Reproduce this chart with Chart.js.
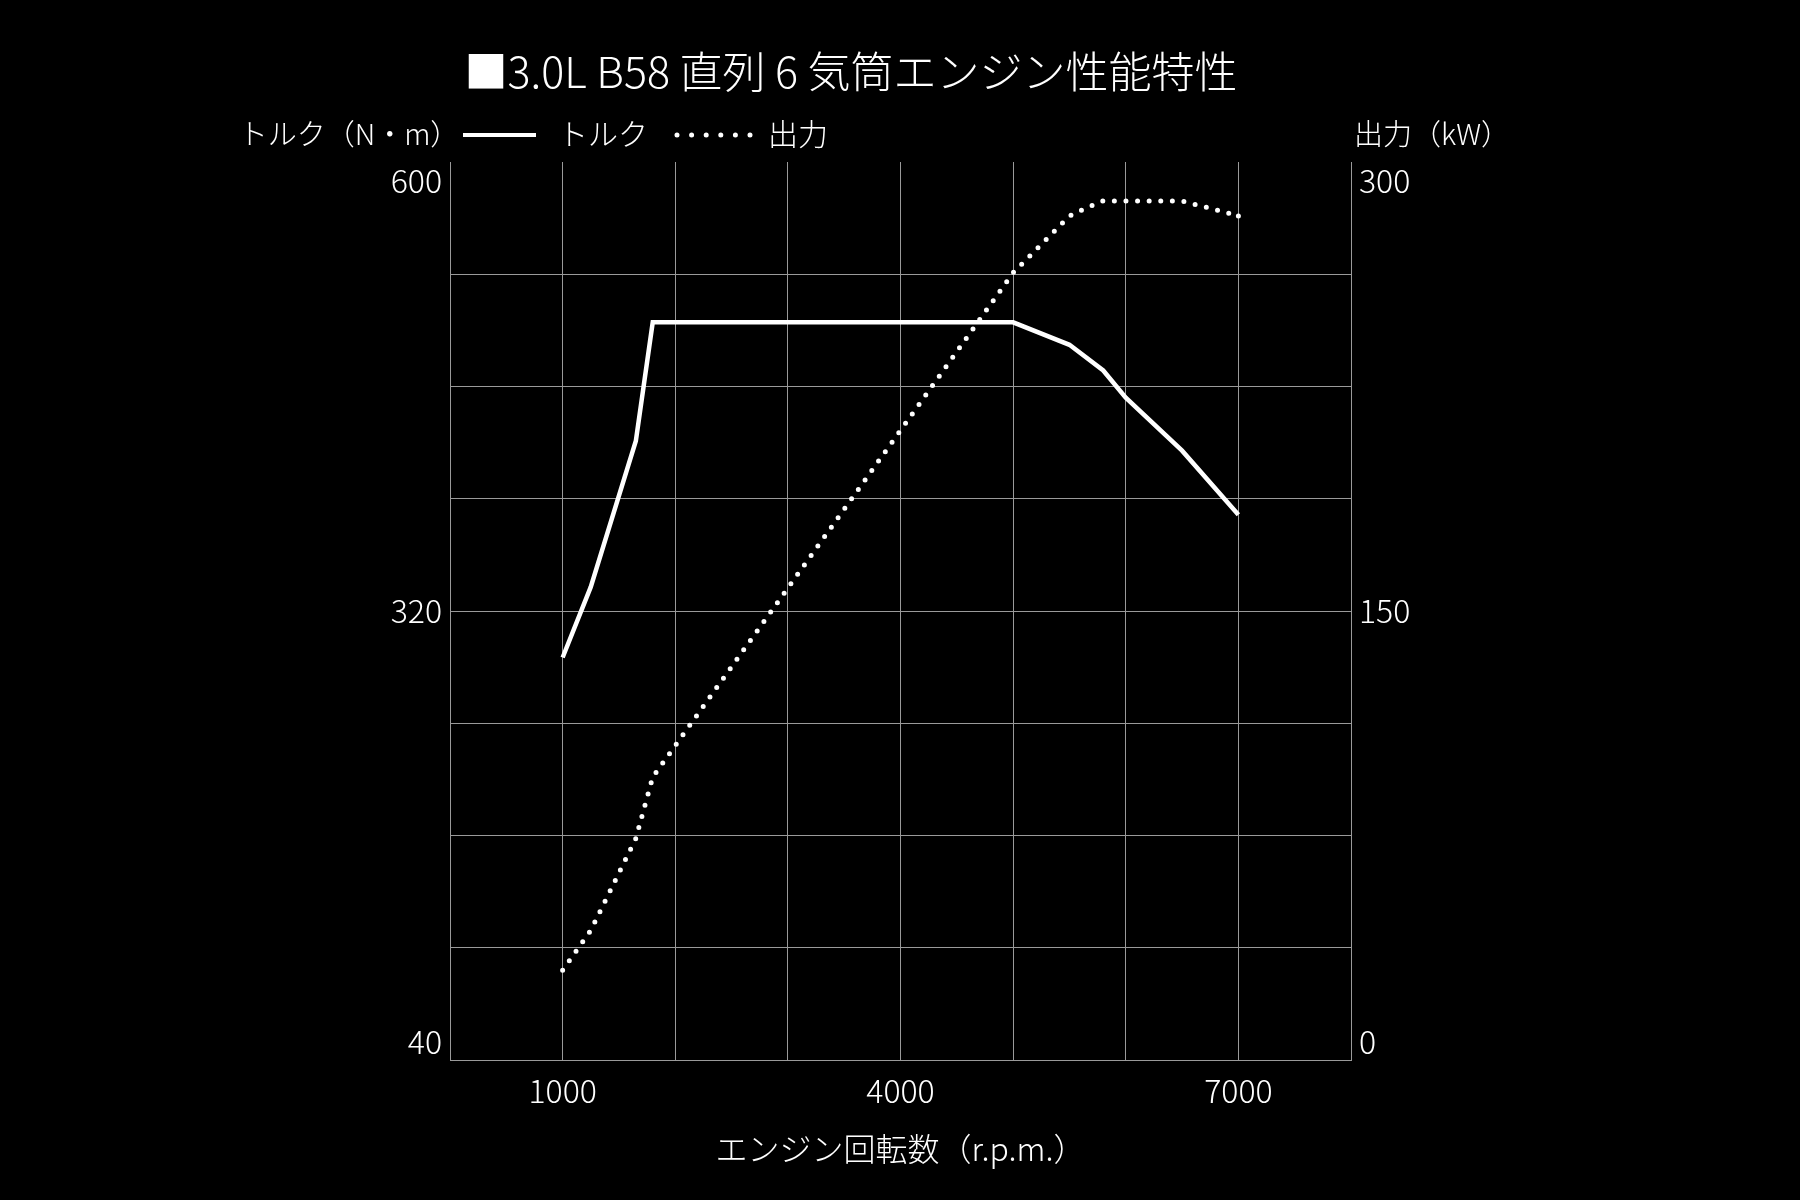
<!DOCTYPE html>
<html lang="ja">
<head>
<meta charset="utf-8">
<script src="https://cdn.jsdelivr.net/npm/chart.js@4.4.1/dist/chart.umd.min.js"></script>
<style>
html,body{margin:0;padding:0;background:#000;}
#wrap{width:1800px;height:1200px;position:relative;}
</style>
</head>
<body>
<div id="wrap"><canvas id="c"></canvas></div>
<script>
// ---- texts ----
const titleText = '■3.0L B58 直列 6 気筒エンジン性能特性';
const leftAxisLabel = 'トルク（N・m）';
const rightAxisLabel = '出力（kW）';
const xAxisLabel = 'エンジン回転数（r.p.m.）';
const seriesNames = ['トルク', '出力'];

// ---- data ----
const torqueRpm = [1000, 1250, 1650, 1800, 5000, 5500, 5800, 6000, 6500, 7000];
const torqueNm  = [291, 335, 426, 500, 500, 486, 470, 453, 420, 380];
const powerRpm  = [1000, 1250, 1650, 1800, 5000, 5500, 5650, 5800, 6500, 7000];
const powerKw   = [30, 43.3, 74, 94.5, 263, 282, 284.7, 287, 287, 282];

// ---- axes ----
const xTickLabels = [1000, 4000, 7000];
const leftTickLabels = [40, 320, 600];
const rightTickLabels = [0, 150, 300];
const xMin = 0, xMax = 8000, xStep = 1000;
const leftMin = 40, leftMax = 600, leftStep = 70;
const rightMin = 0, rightMax = 300, rightStep = 37.5;

const FONT = '"Noto Sans CJK JP", "Noto Sans", sans-serif';
const WEIGHT = 300;
const GRID = '#9a9a9a';
const WHITE = '#ffffff';

function pairs(xs, ys) { return xs.map((x, i) => ({x: x, y: ys[i]})); }

// labels at the ends of an axis are pushed inside the axis range
function edgeLabel(value, list, min, max) {
  if (!list.includes(value)) return '';
  const s = String(value);
  if (value === max) return ['', s];
  if (value === min) return [s, ''];
  return s;
}

const bgPlugin = {
  id: 'bg',
  beforeDraw(chart) {
    const {ctx, width, height} = chart;
    ctx.save();
    ctx.fillStyle = '#000';
    ctx.fillRect(0, 0, width, height);
    ctx.restore();
  }
};

const headerPlugin = {
  id: 'header',
  afterDraw(chart) {
    const {ctx, chartArea} = chart;
    const yHead = chartArea.top - 28;
    ctx.save();
    ctx.fillStyle = WHITE;
    ctx.textBaseline = 'middle';
    // title
    ctx.font = WEIGHT + ' 43px ' + FONT;
    ctx.textAlign = 'center';
    ctx.fillText(titleText, 851, 72);
    // left axis label
    ctx.font = WEIGHT + ' 29px ' + FONT;
    ctx.textAlign = 'center';
    ctx.fillText(leftAxisLabel, 349, yHead);
    // right axis label
    ctx.fillText(rightAxisLabel, 1432, yHead);
    // legend: torque
    ctx.strokeStyle = WHITE;
    ctx.lineWidth = 4;
    ctx.lineCap = 'butt';
    ctx.beginPath();
    ctx.moveTo(463, yHead + 1);
    ctx.lineTo(536, yHead + 1);
    ctx.stroke();
    ctx.textAlign = 'left';
    ctx.font = WEIGHT + ' 30px ' + FONT;
    ctx.fillText(seriesNames[0], 558, yHead);
    // legend: power
    ctx.lineWidth = 5;
    ctx.lineCap = 'round';
    ctx.setLineDash([0, 14.6]);
    ctx.beginPath();
    ctx.moveTo(677, yHead + 1);
    ctx.lineTo(750.1, yHead + 1);
    ctx.stroke();
    ctx.setLineDash([]);
    ctx.fillText(seriesNames[1], 768, yHead);
    ctx.restore();
  }
};

const lastPower = powerRpm.length - 1;

new Chart(document.getElementById('c'), {
  type: 'line',
  data: {
    datasets: [
      {
        label: seriesNames[0],
        data: pairs(torqueRpm, torqueNm),
        yAxisID: 'yL',
        borderColor: WHITE,
        borderWidth: 4.5,
        borderJoinStyle: 'miter',
        pointRadius: 0,
        tension: 0,
        fill: false
      },
      {
        label: seriesNames[1],
        data: pairs(powerRpm, powerKw),
        yAxisID: 'yR',
        borderColor: WHITE,
        borderWidth: 5,
        borderCapStyle: 'round',
        borderDash: [0, 11.6],
        pointRadius: c => c.dataIndex === lastPower ? 2.5 : 0,
        pointBorderWidth: 0,
        pointBackgroundColor: WHITE,
        tension: 0,
        fill: false
      }
    ]
  },
  options: {
    responsive: true,
    maintainAspectRatio: false,
    animation: false,
    devicePixelRatio: 1,
    layout: { padding: { left: 390, right: 389, top: 162, bottom: 0 } },
    plugins: {
      legend: { display: false },
      title: { display: false },
      tooltip: { enabled: false }
    },
    scales: {
      x: {
        type: 'linear',
        min: xMin, max: xMax,
        afterFit(scale) { scale.height = 140; },
        ticks: {
          stepSize: xStep,
          color: WHITE,
          padding: 12,
          maxRotation: 0,
          autoSkip: false,
          font: { family: FONT, size: 32, weight: WEIGHT, lineHeight: 1.2 },
          callback: v => xTickLabels.includes(v) ? String(v) : ''
        },
        grid: { color: GRID, lineWidth: 1, drawTicks: false },
        border: { color: GRID, width: 1 },
        title: {
          display: true,
          text: xAxisLabel,
          color: WHITE,
          font: { family: FONT, size: 32, weight: WEIGHT, lineHeight: 1.2 },
          padding: { top: 0, bottom: 32 }
        }
      },
      yL: {
        type: 'linear',
        position: 'left',
        min: leftMin, max: leftMax,
        afterFit(scale) { scale.width = 60; },
        ticks: {
          stepSize: leftStep,
          color: WHITE,
          padding: 8,
          autoSkip: false,
          font: { family: FONT, size: 32, weight: WEIGHT, lineHeight: 1.16 },
          callback: v => edgeLabel(v, leftTickLabels, leftMin, leftMax)
        },
        grid: {
          color: c => (c.tick && c.tick.value === leftMax) ? 'rgba(0,0,0,0)' : GRID,
          lineWidth: 1,
          drawTicks: false
        },
        border: { color: GRID, width: 1 }
      },
      yR: {
        type: 'linear',
        position: 'right',
        min: rightMin, max: rightMax,
        afterFit(scale) { scale.width = 60; },
        ticks: {
          stepSize: rightStep,
          color: WHITE,
          padding: 8,
          autoSkip: false,
          font: { family: FONT, size: 32, weight: WEIGHT, lineHeight: 1.16 },
          callback: v => edgeLabel(v, rightTickLabels, rightMin, rightMax)
        },
        grid: { drawOnChartArea: false, drawTicks: false },
        border: { color: GRID, width: 1 }
      }
    }
  },
  plugins: [bgPlugin, headerPlugin]
});
</script>
</body>
</html>
